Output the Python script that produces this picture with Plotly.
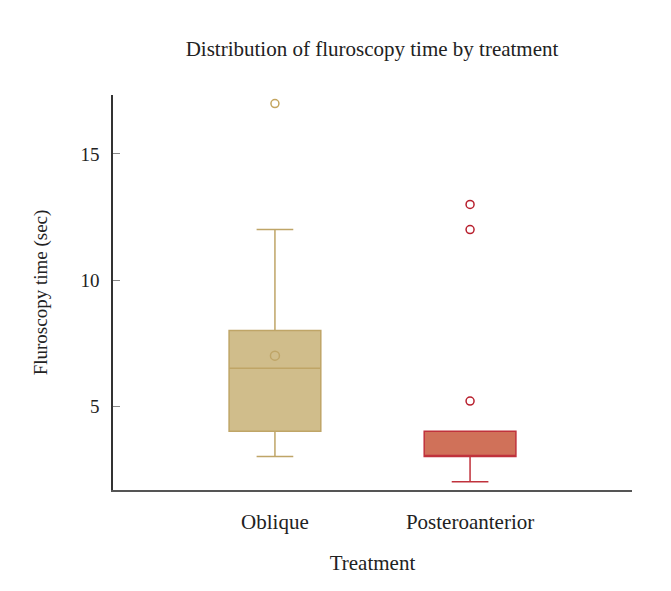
import plotly.graph_objects as go

categories = ["Oblique", "Posteroanterior"]
q1 = [4, 3]
medians = [6.5, 3]
q3 = [8, 4]
lower_fence = [3, 2]
upper_fence = [12, 4]
means = [7, None]
outliers = [[17], [13, 12, 5.2]]

fills = ["#D0BD8B", "#D07159"]
lines = ["#BFA567", "#C0323C"]
marker_cols = ["#C4A55E", "#B8202E"]

FONT = "Liberation Serif"

fig = go.Figure()
for i, cat in enumerate(categories):
    fig.add_trace(go.Box(
        x=[cat], q1=[q1[i]], median=[medians[i]], q3=[q3[i]],
        lowerfence=[lower_fence[i]], upperfence=[upper_fence[i]],
        fillcolor=fills[i], line=dict(color=lines[i], width=1.5),
        width=0.47, whiskerwidth=0.4, boxpoints=False, showlegend=False,
        hoverinfo="skip",
    ))
    if means[i] is not None:
        fig.add_trace(go.Scatter(
            x=[cat], y=[means[i]], mode="markers", showlegend=False,
            marker=dict(symbol="circle-open", size=9, color=lines[i], line=dict(width=1.5)),
        ))
    fig.add_trace(go.Scatter(
        x=[cat] * len(outliers[i]), y=outliers[i], mode="markers", showlegend=False,
        marker=dict(symbol="circle-open", size=8, color=marker_cols[i], line=dict(width=1.5)),
    ))

fig.update_layout(
    width=671, height=591,
    margin=dict(l=105, r=47, t=87, b=109),
    paper_bgcolor="white", plot_bgcolor="white",
    font=dict(family=FONT, size=20, color="#222222"),
    title=dict(text="Distribution of fluroscopy time by treatment", x=0.5425, xanchor="center",
               y=0.932, yanchor="middle", font=dict(family=FONT, size=21, color="#222222")),
    xaxis=dict(
        type="category", categoryorder="array", categoryarray=categories,
        range=[-0.83, 1.83], showline=True, linecolor="#555555", linewidth=2,
        ticks="outside", ticklen=12, tickcolor="rgba(0,0,0,0)", showgrid=False, zeroline=False,
        tickfont=dict(size=21),
        title=dict(text="Treatment", font=dict(size=21), standoff=22),
    ),
    yaxis=dict(
        range=[1.67, 17.34], tickvals=[5, 10, 15], showline=True, linecolor="#333333",
        linewidth=1.5, ticks="inside", ticklen=7, tickcolor="#888888", showgrid=False,
        zeroline=False, tickfont=dict(size=19), ticklabelstandoff=8,
        title=dict(text="Fluroscopy time (sec)", font=dict(size=19), standoff=28),
    ),
)

fig.write_html("out.html")
